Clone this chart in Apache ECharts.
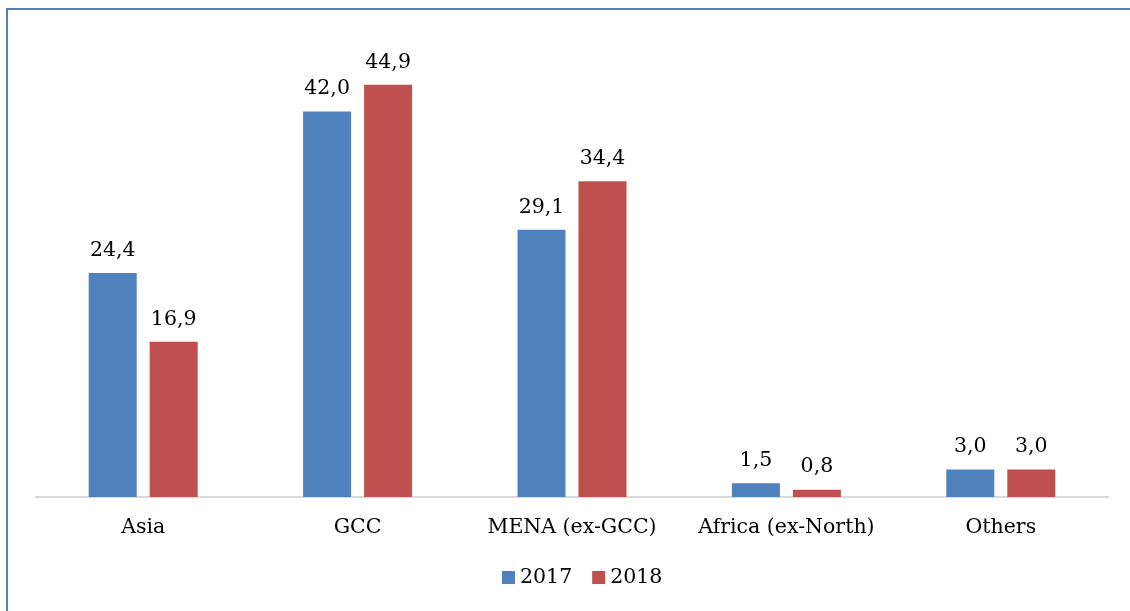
<!DOCTYPE html>
<html>
<head>
<meta charset="utf-8">
<script src="https://cdn.jsdelivr.net/npm/echarts@6/dist/echarts.min.js"></script>
<style>
  html, body { margin: 0; padding: 0; background: #fff; overflow: hidden; }
  #main { width: 1130px; height: 611px; position: relative; }
  #frame { position: absolute; left: 6px; top: 8px; width: 1140px; height: 620px;
           border: 2px solid #4f81bd; pointer-events: none; }
</style>
</head>
<body>
<div id="main"></div>
<div id="frame"></div>
<script>
// regions and values (millions), comma used as decimal mark
const categories = ["Asia", "GCC", "MENA (ex-GCC)", "Africa (ex-North)", "Others"];
const values2017 = [24.4, 42.0, 29.1, 1.5, 3.0];
const values2018 = [16.9, 44.9, 34.4, 0.8, 3.0];
const seriesNames = ["2017", "2018"];

const FONT = "'DejaVu Serif', 'Liberation Serif', serif";
const FONT_SIZE = 20.5;

function commaLabel(p) {
  return p.value.toFixed(1).replace(".", ",");
}

const chart = echarts.init(document.getElementById("main"));
chart.setOption({
  animation: false,
  textStyle: { fontFamily: FONT },
  grid: { left: 36, right: 22, top: 38, bottom: 114 },
  legend: {
    bottom: 18,
    left: 497,
    itemWidth: 13,
    itemHeight: 13,
    itemGap: 20,
    icon: "rect",
    textStyle: { fontFamily: FONT, fontSize: FONT_SIZE, color: "#000" },
    data: seriesNames,
  },
  xAxis: {
    type: "category",
    data: categories,
    axisLine: { lineStyle: { color: "#d9d9d9", width: 2 } },
    axisTick: { show: false },
    axisLabel: { interval: 0, fontFamily: FONT, fontSize: FONT_SIZE, color: "#000", margin: 20 },
  },
  yAxis: {
    type: "value",
    min: 0,
    max: 50,
    show: false,
    splitLine: { show: false },
  },
  series: [
    {
      name: seriesNames[0],
      type: "bar",
      data: values2017,
      barWidth: "22.4%",
      barGap: "27%",
      itemStyle: { color: "#4f81bd" },
      label: { show: true, position: "top", distance: 12, fontFamily: FONT, fontSize: FONT_SIZE, color: "#000", formatter: commaLabel },
    },
    {
      name: seriesNames[1],
      type: "bar",
      data: values2018,
      barWidth: "22.4%",
      barGap: "27%",
      itemStyle: { color: "#c0504d" },
      label: { show: true, position: "top", distance: 12, fontFamily: FONT, fontSize: FONT_SIZE, color: "#000", formatter: commaLabel },
    },
  ],
});
</script>
</body>
</html>
